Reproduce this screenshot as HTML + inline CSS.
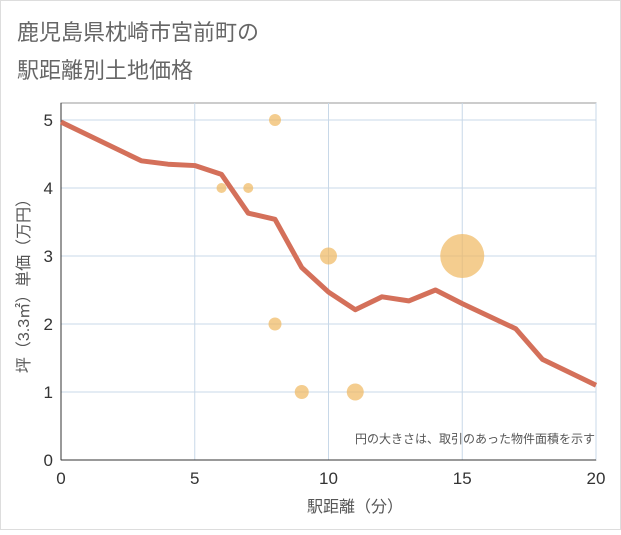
<!DOCTYPE html>
<html><head><meta charset="utf-8"><style>
body{margin:0;background:#fff;}
#wrap{position:relative;width:621px;height:530px;}
text{font-family:"Liberation Sans","Noto Sans CJK JP",sans-serif;}
</style></head><body>
<div id="wrap">
<svg id="svg" width="621" height="530" xmlns="http://www.w3.org/2000/svg">
<rect x="0.5" y="0.5" width="620" height="529" fill="#fff" stroke="#ddd"/>
<text x="17" y="40" font-size="22" fill="#666">鹿児島県枕崎市宮前町の</text>
<text x="17" y="78" font-size="22" fill="#666">駅距離別土地価格</text>
<g id="grid"></g>
<g id="axes"></g>
<g id="marks"></g>
<text x="595" y="443" font-size="12" fill="#555" text-anchor="end">円の大きさは、取引のあった物件面積を示す</text>
<text x="355" y="512" font-size="16" fill="#555" text-anchor="middle">駅距離（分）</text>
<text transform="translate(29,282) rotate(-90)" font-size="16" fill="#555" text-anchor="middle">坪（3.3㎡）単価（万円）</text>
</svg>
</div>
<script>
const xTicks=[0,5,10,15,20];
const yTicks=[0,1,2,3,4,5];
const lineX=[0,3,4,5,6,7,8,9,10,11,12,13,14,15,17,18,20];
const lineY=[4.97,4.4,4.35,4.33,4.2,3.63,3.54,2.83,2.47,2.21,2.4,2.34,2.5,2.3,1.93,1.48,1.1];
const bubX=[8,6,7,10,15,8,9,11];
const bubY=[5,4,4,3,3,2,1,1];
const bubR=[6,5,5,8.5,22,6.5,7,8.5];
const X0=61,X1=596,Y0=460,Y1=120,TOP=103;
const sx=v=>X0+(X1-X0)*v/20, sy=v=>Y0-(Y0-Y1)*v/5;
const NS="http://www.w3.org/2000/svg";
function mk(p,t,a){const e=document.createElementNS(NS,t);for(const k in a)e.setAttribute(k,a[k]);p.appendChild(e);return e;}
const grid=document.getElementById('grid'),axes=document.getElementById('axes'),marks=document.getElementById('marks');
let bg=mk(grid,'rect',{x:X0,y:TOP,width:X1-X0,height:Y0-TOP,fill:'#fff',stroke:'#999'});


xTicks.forEach(t=>{
 let l=mk(grid,'line',{x1:sx(t),x2:sx(t),y1:TOP,y2:Y0,stroke:'#c8d8e8'});
 
 
 let tx=mk(axes,'text',{x:sx(t),y:Y0+24,'font-size':17,fill:'#333','text-anchor':'middle'});tx.textContent=t;
 
 
});
yTicks.forEach(t=>{
 let l=mk(grid,'line',{x1:X0,x2:X1,y1:sy(t),y2:sy(t),stroke:'#c8d8e8'});
 
 
 let tx=mk(axes,'text',{x:X0-8,y:sy(t)+6,'font-size':17,fill:'#333','text-anchor':'end'});tx.textContent=t;
 
 
});
let ax=mk(axes,'line',{x1:X0,x2:X1,y1:Y0,y2:Y0,stroke:'#333'});


let ay=mk(axes,'line',{x1:X0,x2:X0,y1:TOP,y2:Y0,stroke:'#333'});


bubX.forEach((v,i)=>{
 let c=mk(marks,'circle',{cx:sx(v),cy:sy(bubY[i]),r:bubR[i],fill:'#f0b860','fill-opacity':0.7});
 
 
});
let p=mk(marks,'polyline',{points:lineX.map((v,i)=>sx(v)+','+sy(lineY[i])).join(' '),fill:'none',stroke:'#d4705a','stroke-width':5,'stroke-linejoin':'round'});


</script>
</body></html>
